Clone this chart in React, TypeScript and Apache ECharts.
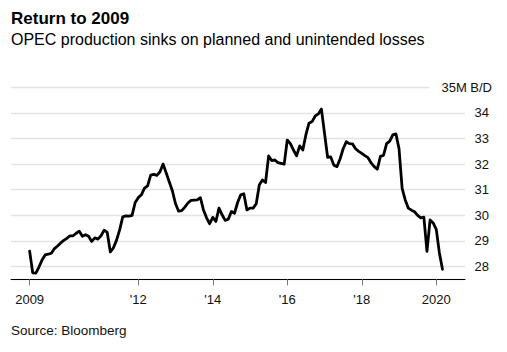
import React, { useEffect, useRef } from 'react';
import * as echarts from 'echarts';

// Monthly OPEC crude production, million barrels/day, starting Jan 2009
const startMonth = '2009-01';
const production = [
  28.6, 27.75, 27.74, 27.98, 28.25, 28.45, 28.48, 28.52, 28.7, 28.8, 28.92, 29.02,
  29.1, 29.2, 29.2, 29.3, 29.38, 29.18, 29.24, 29.18, 28.98, 29.12, 29.07, 29.2,
  29.42, 29.33, 28.57, 28.73, 29.03, 29.43, 29.94, 29.98, 29.97, 30.0, 30.5, 30.69,
  30.8, 31.06, 31.15, 31.57, 31.6, 31.56, 31.7, 32.0, 31.65, 31.3, 30.95, 30.45,
  30.16, 30.18, 30.32, 30.48, 30.58, 30.59, 30.6, 30.69, 30.21, 29.9, 29.67, 29.92,
  29.76, 30.28, 30.02, 29.8, 29.85, 30.15, 30.08, 30.5, 30.8, 30.84, 30.21, 30.28,
  30.28, 30.45, 31.19, 31.38, 31.28, 32.32, 32.14, 32.16, 32.06, 32.03, 32.0, 32.94,
  32.8, 32.55, 32.32, 32.71, 32.55, 33.15, 33.6, 33.66, 33.88, 33.96, 34.15, 33.2,
  32.26, 32.28, 31.96, 31.9, 32.2, 32.6, 32.87, 32.8, 32.79, 32.6, 32.5, 32.42,
  32.33, 32.25, 32.05, 31.9, 31.8, 32.3, 32.34, 32.8, 32.9, 33.14, 33.18, 32.6,
  31.05, 30.6, 30.28, 30.2, 30.14, 30.0, 29.9, 29.93, 28.59, 29.82, 29.7, 29.45,
  28.53, 27.89,
];

// x ticks (month index from startMonth) and their labels
const tickMonths = [0, 35, 59, 83, 107, 131];
const tickLabels = ['2009', "'12", "'14", "'16", "'18", '2020'];

const yMin = 27.5;
const yMax = 35;
const unitLabel = '35M B/D';

const titleText = 'Return to 2009';
const subtitleText = 'OPEC production sinks on planned and unintended losses';
const sourceText = 'Source: Bloomberg';

const FONT = '"Liberation Sans", Arial, Helvetica, sans-serif';

export default function App() {
  const ref = useRef<HTMLDivElement>(null);

  useEffect(() => {
    if (!ref.current) return;
    const chart = echarts.init(ref.current, undefined, { renderer: 'svg' });
    const data = production.map((v, i) => [i, v]);
    chart.setOption({
      animation: false,
      backgroundColor: '#ffffff',
      grid: { left: 11, top: 87.3, width: 454, height: 192, containLabel: false },
      xAxis: {
        type: 'value',
        min: -6,
        max: 140.25,
        axisLine: { show: true, lineStyle: { color: '#000', width: 1 } },
        axisTick: {
          show: true,
          customValues: tickMonths,
          length: 6,
          lineStyle: { color: '#777', width: 1 },
        },
        axisLabel: {
          customValues: tickMonths,
          margin: 14,
          fontFamily: FONT,
          fontSize: 13,
          color: '#111',
          formatter: (v: number) => {
            const k = tickMonths.indexOf(Math.round(v));
            return k >= 0 ? tickLabels[k] : '';
          },
        },
        splitLine: { show: false },
      },
      yAxis: {
        type: 'value',
        position: 'right',
        min: yMin,
        max: yMax,
        splitNumber: 7,
        axisLine: { show: false },
        axisTick: { show: false },
        splitLine: { show: true, lineStyle: { color: '#e3e3e3', width: 1.4 } },
        axisLabel: {
          align: 'right',
          margin: 27,
          fontFamily: FONT,
          fontSize: 13,
          color: '#111',
          formatter: (v: number) => {
            if (v === yMin) return '';
            if (v === yMax) return '{top|' + unitLabel + '}';
            return '{num|' + v + '}';
          },
          rich: {
            top: {
              fontFamily: FONT,
              fontSize: 13,
              color: '#111',
              backgroundColor: '#ffffff',
              padding: [2, 0, 2, 12],
            },
            num: {
              fontFamily: FONT,
              fontSize: 13,
              color: '#111',
              padding: [0, 3, 0, 0],
            },
          },
        },
      },
      series: [
        {
          type: 'line',
          name: 'OPEC production',
          data,
          showSymbol: false,
          symbol: 'none',
          lineStyle: { color: '#000', width: 2.8, join: 'round', cap: 'round' },
          z: 5,
        },
      ],
      graphic: [
        {
          type: 'text',
          left: 11,
          top: 10,
          style: { text: titleText, font: 'bold 17px ' + FONT, fill: '#000' },
        },
        {
          type: 'text',
          left: 11,
          top: 31,
          style: { text: subtitleText, font: '16px ' + FONT, fill: '#000' },
        },
        {
          type: 'text',
          left: 11,
          top: 323,
          style: { text: sourceText, font: '13.5px ' + FONT, fill: '#111' },
        },
      ],
    });
    return () => chart.dispose();
  }, []);

  return (
    <div
      ref={ref}
      style={{ position: 'fixed', left: 0, top: 0, width: 507, height: 352 }}
      data-start={startMonth}
    />
  );
}
